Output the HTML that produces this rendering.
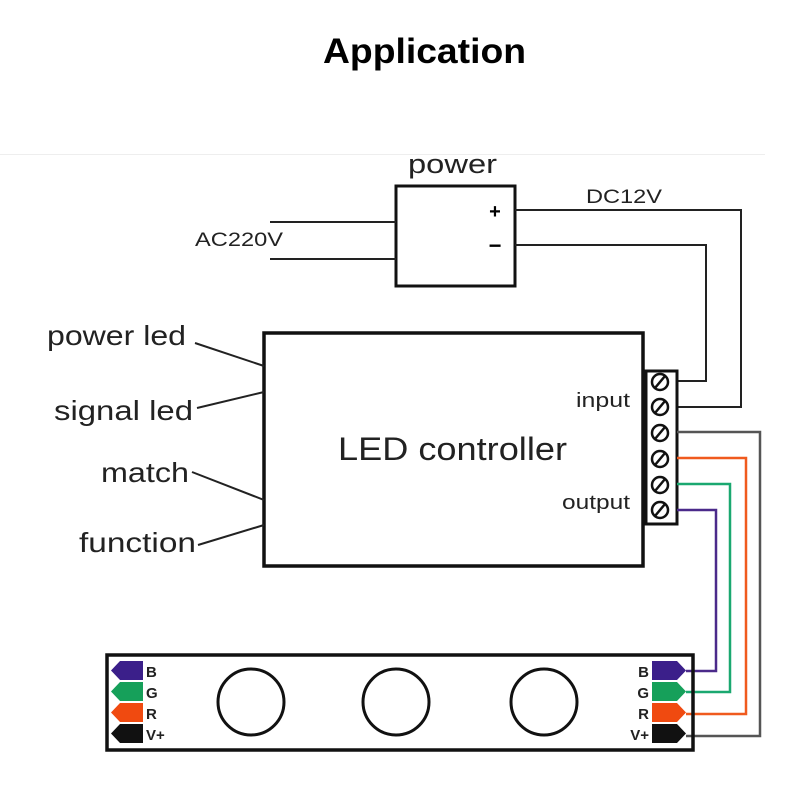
<!DOCTYPE html>
<html><head><meta charset="utf-8"><style>body{margin:0;background:#fff}svg{display:block}</style></head>
<body>
<svg width="800" height="800" viewBox="0 0 800 800" xmlns="http://www.w3.org/2000/svg" font-family="Liberation Sans, Arial, sans-serif">
<rect width="800" height="800" fill="#fff"/>
<text x="323" y="63" font-size="35" font-weight="bold" textLength="203" lengthAdjust="spacingAndGlyphs">Application</text>
<line x1="0" y1="154.5" x2="765" y2="154.5" stroke="#eee" stroke-width="1"/>
<text x="408" y="173" font-size="27" fill="#222" textLength="89" lengthAdjust="spacingAndGlyphs">power</text>
<rect x="396" y="186" width="119" height="100" fill="none" stroke="#111" stroke-width="3"/>
<text x="495" y="218" font-size="20" font-weight="bold" text-anchor="middle">+</text>
<text x="495" y="253" font-size="22" font-weight="bold" text-anchor="middle">−</text>
<line x1="270" y1="222" x2="396" y2="222" stroke="#222" stroke-width="2"/>
<line x1="270" y1="259" x2="396" y2="259" stroke="#222" stroke-width="2"/>
<text x="195" y="246" font-size="19" fill="#222" textLength="88" lengthAdjust="spacingAndGlyphs">AC220V</text>
<text x="586" y="203" font-size="19" fill="#222" textLength="76" lengthAdjust="spacingAndGlyphs">DC12V</text>
<polyline points="515,210 741,210 741,407 677,407" fill="none" stroke="#222" stroke-width="2"/>
<polyline points="515,245 706,245 706,381 677,381" fill="none" stroke="#222" stroke-width="2"/>
<rect x="264" y="333" width="379" height="233" fill="none" stroke="#111" stroke-width="3.5"/>
<text x="338" y="460" font-size="32" fill="#222" textLength="229" lengthAdjust="spacingAndGlyphs">LED controller</text>
<text x="576" y="407" font-size="20" fill="#222" textLength="54" lengthAdjust="spacingAndGlyphs">input</text>
<text x="562" y="509" font-size="20" fill="#222" textLength="68" lengthAdjust="spacingAndGlyphs">output</text>
<rect x="646" y="371" width="31" height="153" fill="#fff" stroke="#111" stroke-width="3"/>
<g stroke="#111" stroke-width="2.5" fill="none">
<circle cx="660" cy="382" r="8"/><line x1="655" y1="388" x2="665" y2="376"/>
<circle cx="660" cy="407" r="8"/><line x1="655" y1="413" x2="665" y2="401"/>
<circle cx="660" cy="433" r="8"/><line x1="655" y1="439" x2="665" y2="427"/>
<circle cx="660" cy="459" r="8"/><line x1="655" y1="465" x2="665" y2="453"/>
<circle cx="660" cy="485" r="8"/><line x1="655" y1="491" x2="665" y2="479"/>
<circle cx="660" cy="510" r="8"/><line x1="655" y1="516" x2="665" y2="504"/>
</g>
<text x="47" y="345" font-size="28" fill="#222" textLength="139" lengthAdjust="spacingAndGlyphs">power led</text>
<text x="54" y="420" font-size="28" fill="#222" textLength="139" lengthAdjust="spacingAndGlyphs">signal led</text>
<text x="101" y="482" font-size="28" fill="#222" textLength="88" lengthAdjust="spacingAndGlyphs">match</text>
<text x="79" y="552" font-size="28" fill="#222" textLength="117" lengthAdjust="spacingAndGlyphs">function</text>
<g stroke="#222" stroke-width="2">
<line x1="195" y1="343" x2="264" y2="366"/>
<line x1="197" y1="408" x2="264" y2="392"/>
<line x1="192" y1="472" x2="264" y2="500"/>
<line x1="198" y1="545" x2="264" y2="525"/>
</g>
<g fill="none" stroke-width="2.5">
<polyline points="677,432 760,432 760,736 686,736" stroke="#555"/>
<polyline points="677,458 746,458 746,714 686,714" stroke="#f05a1e"/>
<polyline points="677,484 730,484 730,692 686,692" stroke="#1aa870"/>
<polyline points="677,510 716,510 716,671 686,671" stroke="#4b2a8a"/>
</g>
<rect x="107" y="655" width="586" height="95" fill="none" stroke="#111" stroke-width="3.5"/>
<circle cx="251" cy="702" r="33" fill="none" stroke="#111" stroke-width="3"/>
<circle cx="396" cy="702" r="33" fill="none" stroke="#111" stroke-width="3"/>
<circle cx="544" cy="702" r="33" fill="none" stroke="#111" stroke-width="3"/>
<polygon points="120,661 143,661 143,680 120,680 111,670.5" fill="#3b1f8a"/>
<polygon points="120,682 143,682 143,701 120,701 111,691.5" fill="#16a05a"/>
<polygon points="120,703 143,703 143,722 120,722 111,712.5" fill="#f04a10"/>
<polygon points="120,724 143,724 143,743 120,743 111,733.5" fill="#111"/>
<polygon points="652,661 677,661 686,670.5 677,680 652,680" fill="#3b1f8a"/>
<polygon points="652,682 677,682 686,691.5 677,701 652,701" fill="#16a05a"/>
<polygon points="652,703 677,703 686,712.5 677,722 652,722" fill="#f04a10"/>
<polygon points="652,724 677,724 686,733.5 677,743 652,743" fill="#111"/>
<g font-size="15" font-weight="bold" fill="#222">
<text x="146" y="677">B</text><text x="146" y="698">G</text><text x="146" y="719">R</text><text x="146" y="740">V+</text>
<text x="649" y="677" text-anchor="end">B</text><text x="649" y="698" text-anchor="end">G</text><text x="649" y="719" text-anchor="end">R</text><text x="649" y="740" text-anchor="end">V+</text>
</g>
</svg>
</body></html>
